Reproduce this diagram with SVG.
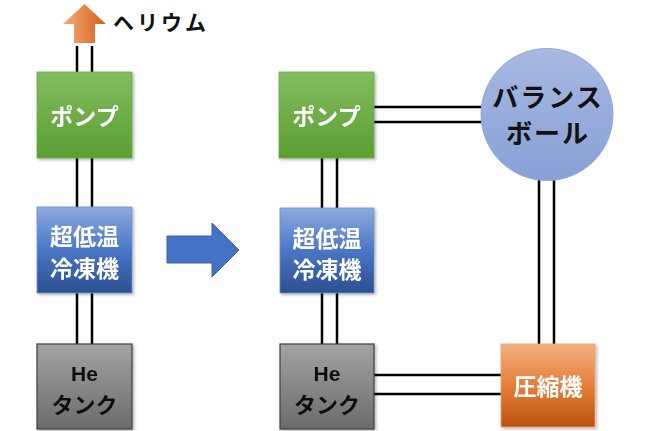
<svg xmlns="http://www.w3.org/2000/svg" width="652" height="431" viewBox="0 0 652 431">
<defs>
<linearGradient id="gGreen" x1="0" y1="0" x2="0" y2="1"><stop offset="0" stop-color="#82bd5f"/><stop offset="1" stop-color="#5c9d33"/></linearGradient>
<linearGradient id="gBlue" x1="0" y1="0" x2="0" y2="1"><stop offset="0" stop-color="#8eaadd"/><stop offset="0.5" stop-color="#4a76c6"/><stop offset="1" stop-color="#2c4f8f"/></linearGradient>
<linearGradient id="gGray" x1="0" y1="0" x2="0" y2="1"><stop offset="0" stop-color="#a3a3a3"/><stop offset="1" stop-color="#6b6b6b"/></linearGradient>
<linearGradient id="gOrange" x1="0" y1="0" x2="0" y2="1"><stop offset="0" stop-color="#f3b07f"/><stop offset="0.5" stop-color="#e57f3a"/><stop offset="1" stop-color="#b9520f"/></linearGradient>
<linearGradient id="gBall" x1="0" y1="0" x2="0" y2="1"><stop offset="0" stop-color="#a8b9e2"/><stop offset="1" stop-color="#87a0d6"/></linearGradient>
<linearGradient id="gArrowO" x1="0" y1="0" x2="1" y2="0"><stop offset="0" stop-color="#f5ad78"/><stop offset="1" stop-color="#d2601a"/></linearGradient>
<filter id="sh" x="-10%" y="-10%" width="130%" height="130%"><feDropShadow dx="1.5" dy="1.5" stdDeviation="1.5" flood-color="#000" flood-opacity="0.3"/></filter>
</defs>
<style>
.pipe{stroke:#000;stroke-width:2.5;fill:none}
.box{filter:url(#sh)}
.w{fill:#fff;font-family:"Noto Sans CJK JP","Noto Sans",sans-serif;font-weight:bold;font-size:23px;text-anchor:middle;dominant-baseline:central}
.k{fill:#111;font-family:"Noto Sans CJK JP","Noto Sans",sans-serif;font-weight:bold;font-size:22px;text-anchor:middle;dominant-baseline:central}
.ball{font-size:26px;letter-spacing:2px}
.he{fill:#111;font-family:"Liberation Sans",Arial,sans-serif;font-weight:bold;font-size:21px;text-anchor:middle;dominant-baseline:central}
</style>
<g id="connectors">
<line class="pipe" x1="77" y1="46" x2="77" y2="72"/><line class="pipe" x1="92" y1="46" x2="92" y2="72"/>
<line class="pipe" x1="77" y1="158" x2="77" y2="207"/><line class="pipe" x1="92" y1="158" x2="92" y2="207"/>
<line class="pipe" x1="77" y1="293" x2="77" y2="344"/><line class="pipe" x1="92" y1="293" x2="92" y2="344"/>
<line class="pipe" x1="322" y1="158" x2="322" y2="208"/><line class="pipe" x1="337" y1="158" x2="337" y2="208"/>
<line class="pipe" x1="322" y1="293" x2="322" y2="344"/><line class="pipe" x1="337" y1="293" x2="337" y2="344"/>
<line class="pipe" x1="374" y1="107" x2="484" y2="107"/><line class="pipe" x1="374" y1="122" x2="484" y2="122"/>
<line class="pipe" x1="539" y1="178" x2="539" y2="344"/><line class="pipe" x1="554" y1="178" x2="554" y2="344"/>
<line class="pipe" x1="374" y1="375" x2="501" y2="375"/><line class="pipe" x1="374" y1="394" x2="501" y2="394"/>
</g>
<g id="helium-arrow">
<polygon points="84.5,4 106,24 95,24 95,43 74,43 74,24 63,24" fill="url(#gArrowO)"/>
<text x="113" y="21" font-family="'Noto Sans CJK JP',sans-serif" font-weight="bold" font-size="21" fill="#111" dominant-baseline="central" letter-spacing="3">ヘリウム</text>
</g>
<g id="pump-left" class="box"><rect x="37" y="72" width="95" height="86" fill="url(#gGreen)" stroke="#6aa844" stroke-width="0.8"/><text class="w" x="84.5" y="115">ポンプ</text></g>
<g id="cryo-left" class="box"><rect x="37" y="207" width="95" height="86" fill="url(#gBlue)" stroke="#6f8fcf" stroke-width="0.8"/><text class="w" x="84.5" y="235">超低温</text><text class="w" x="84.5" y="267">冷凍機</text></g>
<g id="tank-left" class="box"><rect x="37" y="344" width="95" height="85" fill="url(#gGray)" stroke="#404040" stroke-width="1.2"/><text class="he" x="84.5" y="373">He</text><text class="k" x="84.5" y="403">タンク</text></g>
<g id="transition-arrow"><polygon points="167,236 212,236 212,223 239,250 212,277 212,263 167,263" fill="#4472c4" stroke="#3a62a8" stroke-width="1"/></g>
<g id="pump-right" class="box"><rect x="279" y="72" width="95" height="86" fill="url(#gGreen)" stroke="#6aa844" stroke-width="0.8"/><text class="w" x="326.5" y="115">ポンプ</text></g>
<g id="cryo-right" class="box"><rect x="280" y="208" width="94" height="85" fill="url(#gBlue)" stroke="#6f8fcf" stroke-width="0.8"/><text class="w" x="327" y="237">超低温</text><text class="w" x="327" y="268">冷凍機</text></g>
<g id="tank-right" class="box"><rect x="280" y="344" width="94" height="85" fill="url(#gGray)" stroke="#404040" stroke-width="1.2"/><text class="he" x="327" y="373">He</text><text class="k" x="327" y="403">タンク</text></g>
<g id="balance-ball"><circle cx="547" cy="114.5" r="66" fill="url(#gBall)" stroke="#8fa7da" stroke-width="1"/><text class="k ball" x="548" y="95">バランス</text><text class="k ball" x="548" y="131">ボール</text></g>
<g id="compressor" class="box"><rect x="501" y="344" width="94" height="83" fill="url(#gOrange)" stroke="#f0a070" stroke-width="0.8"/><text class="w" x="548" y="385">圧縮機</text></g>
</svg>
